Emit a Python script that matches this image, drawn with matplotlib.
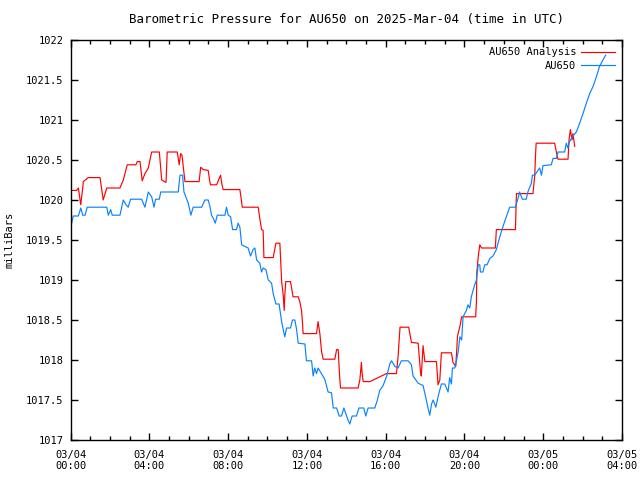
import matplotlib
matplotlib.use('Agg')
import matplotlib.pyplot as plt
from matplotlib.ticker import MultipleLocator, FixedLocator

plt.rcParams['font.family'] = 'DejaVu Sans Mono'
plt.rcParams['font.size'] = 7.5

# hours since 2025-03-04 00:00 UTC, pressure in mb
analysis_h = [0.06, 0.31, 0.40, 0.52, 0.62, 0.65, 0.90, 1.50, 1.66, 1.84, 2.51, 2.68, 2.88, 3.32,
              3.39, 3.53, 3.64, 3.78, 3.95, 4.12, 4.51, 4.63, 4.85, 4.91, 5.42, 5.52, 5.59, 5.66,
              5.81, 6.53, 6.61, 6.74, 6.99, 7.08, 7.11, 7.42, 7.55, 7.62, 7.67, 7.75, 8.60, 8.69,
              8.72, 9.53, 9.61, 9.70, 9.78, 9.82, 10.29, 10.43, 10.63, 10.72, 10.80, 10.85, 10.88,
              10.93, 11.17, 11.30, 11.56, 11.64, 11.73, 11.78, 11.81, 12.49, 12.57, 12.66, 12.75,
              12.83, 13.42, 13.51, 13.59, 13.67, 13.71, 14.60, 14.69, 14.77, 14.80, 14.86, 15.20,
              16.04, 16.55, 16.63, 16.73, 17.17, 17.31, 17.65, 17.77, 17.81, 17.90, 17.99, 18.58,
              18.66, 18.75, 18.83, 19.34, 19.42, 19.56, 19.65, 19.77, 19.86, 20.57, 20.61, 20.63,
              20.70, 20.78, 20.87, 21.57, 21.62, 22.59, 22.64, 23.48, 23.57, 23.60, 23.64, 24.58,
              24.70, 24.75, 25.26, 25.31, 25.38, 25.46, 25.51, 25.60]
analysis_mb = [1020.12, 1020.12, 1020.15, 1019.94, 1020.15, 1020.23, 1020.28, 1020.28, 1020.00,
               1020.15, 1020.15, 1020.25, 1020.44, 1020.44, 1020.48, 1020.48, 1020.24, 1020.33,
               1020.40, 1020.60, 1020.60, 1020.25, 1020.22, 1020.60, 1020.60, 1020.44, 1020.58,
               1020.56, 1020.23, 1020.23, 1020.41, 1020.38, 1020.37, 1020.22, 1020.19, 1020.19,
               1020.27, 1020.31, 1020.22, 1020.13, 1020.13, 1019.97, 1019.91, 1019.91, 1019.77,
               1019.63, 1019.62, 1019.28, 1019.28, 1019.46, 1019.46, 1018.98, 1018.81, 1018.62,
               1018.81, 1018.98, 1018.98, 1018.79, 1018.79, 1018.73, 1018.62, 1018.46, 1018.33,
               1018.33, 1018.48, 1018.33, 1018.10, 1018.01, 1018.01, 1018.13, 1018.13, 1017.77,
               1017.65, 1017.65, 1017.75, 1017.97, 1017.85, 1017.73, 1017.73, 1017.83, 1017.83,
               1018.04, 1018.41, 1018.41, 1018.22, 1018.21, 1017.85, 1017.80, 1018.18, 1017.98,
               1017.98, 1017.69, 1017.75, 1018.09, 1018.09, 1017.97, 1017.92, 1018.30, 1018.42,
               1018.54, 1018.54, 1018.73, 1019.10, 1019.29, 1019.44, 1019.40, 1019.40, 1019.63,
               1019.63, 1020.08, 1020.08, 1020.31, 1020.50, 1020.71, 1020.71, 1020.56, 1020.51,
               1020.51, 1020.75, 1020.88, 1020.75, 1020.83, 1020.67]

station_h = [0.06, 0.14, 0.40, 0.52, 0.62, 0.74, 0.85, 1.84, 1.92, 2.04, 2.12, 2.51, 2.68, 2.82,
             2.93, 3.05, 3.61, 3.78, 3.95, 4.12, 4.24, 4.32, 4.51, 4.58, 5.47, 5.56, 5.69, 5.76,
             5.98, 6.11, 6.23, 6.53, 6.66, 6.82, 6.99, 7.08, 7.16, 7.25, 7.35, 7.45, 7.84, 7.92,
             8.01, 8.13, 8.23, 8.43, 8.51, 8.60, 8.69, 9.02, 9.14, 9.27, 9.36, 9.45, 9.61, 9.70,
             9.78, 9.92, 10.04, 10.21, 10.29, 10.43, 10.59, 10.72, 10.80, 10.88, 10.97, 11.17,
             11.27, 11.39, 11.48, 11.56, 11.90, 11.98, 12.24, 12.32, 12.40, 12.49, 12.57, 12.69,
             12.91, 13.08, 13.25, 13.34, 13.51, 13.64, 13.76, 13.88, 13.98, 14.09, 14.18, 14.30,
             14.52, 14.64, 14.89, 14.99, 15.11, 15.45, 15.57, 15.70, 15.87, 16.07, 16.21, 16.30,
             16.47, 16.63, 16.80, 17.14, 17.31, 17.39, 17.65, 17.90, 18.04, 18.15, 18.24, 18.33,
             18.41, 18.55, 18.66, 18.83, 19.00, 19.17, 19.25, 19.34, 19.39, 19.51, 19.60, 19.68,
             19.77, 19.86, 19.93, 20.10, 20.18, 20.27, 20.35, 20.52, 20.61, 20.70, 20.78, 20.81,
             20.94, 21.03, 21.15, 21.29, 21.45, 21.62, 21.75, 21.87, 22.04, 22.21, 22.30, 22.59,
             22.72, 22.80, 22.94, 23.14, 23.22, 23.40, 23.45, 23.57, 23.73, 23.82, 23.91, 23.99,
             24.41, 24.50, 24.67, 24.75, 25.09, 25.17, 25.25, 25.34, 25.48, 25.68, 25.85, 26.02,
             26.19, 26.36, 26.53, 26.70, 26.86, 27.03, 27.17]
station_mb = [1019.71, 1019.80, 1019.80, 1019.90, 1019.81, 1019.81, 1019.91, 1019.91, 1019.81,
              1019.88, 1019.81, 1019.81, 1020.00, 1019.94, 1019.91, 1020.01, 1020.01, 1019.91,
              1020.10, 1020.04, 1019.91, 1020.01, 1020.01, 1020.10, 1020.10, 1020.31, 1020.31,
              1020.10, 1019.96, 1019.81, 1019.91, 1019.91, 1019.91, 1020.00, 1020.00, 1019.92,
              1019.81, 1019.77, 1019.71, 1019.81, 1019.81, 1019.91, 1019.81, 1019.79, 1019.63,
              1019.63, 1019.71, 1019.66, 1019.44, 1019.40, 1019.30, 1019.38, 1019.40, 1019.25,
              1019.21, 1019.10, 1019.15, 1019.13, 1019.00, 1018.96, 1018.83, 1018.70, 1018.70,
              1018.48, 1018.38, 1018.29, 1018.40, 1018.40, 1018.50, 1018.50, 1018.38, 1018.21,
              1018.20, 1017.99, 1017.99, 1017.80, 1017.90, 1017.83, 1017.90, 1017.85, 1017.76,
              1017.60, 1017.59, 1017.40, 1017.40, 1017.30, 1017.30, 1017.40, 1017.33, 1017.25,
              1017.20, 1017.30, 1017.30, 1017.40, 1017.40, 1017.30, 1017.40, 1017.40, 1017.49,
              1017.62, 1017.68, 1017.81, 1017.95, 1017.99, 1017.92, 1017.90, 1017.99, 1017.99,
              1017.94, 1017.80, 1017.71, 1017.68, 1017.53, 1017.40, 1017.31, 1017.45, 1017.50,
              1017.41, 1017.54, 1017.70, 1017.70, 1017.60, 1017.78, 1017.70, 1017.90, 1017.90,
              1018.00, 1018.10, 1018.29, 1018.25, 1018.54, 1018.62, 1018.69, 1018.65, 1018.79,
              1018.94, 1019.00, 1019.19, 1019.19, 1019.10, 1019.10, 1019.19, 1019.19, 1019.27,
              1019.30, 1019.38, 1019.50, 1019.60, 1019.73, 1019.85, 1019.91, 1019.91, 1020.02,
              1020.10, 1020.01, 1020.01, 1020.10, 1020.21, 1020.31, 1020.31, 1020.37, 1020.40,
              1020.31, 1020.43, 1020.44, 1020.52, 1020.52, 1020.60, 1020.60, 1020.71, 1020.65,
              1020.73, 1020.79, 1020.85, 1020.96, 1021.08, 1021.21, 1021.33, 1021.42, 1021.54,
              1021.67, 1021.75, 1021.81]

xtick_hours = [0, 4, 8, 12, 16, 20, 24, 28]
xtick_labels = ['03/04\n00:00', '03/04\n04:00', '03/04\n08:00', '03/04\n12:00',
                '03/04\n16:00', '03/04\n20:00', '03/05\n00:00', '03/05\n04:00']

fig = plt.figure(figsize=(6.4, 4.8), dpi=100)
ax = fig.add_axes([70.5 / 640, 40 / 480, 551.5 / 640, 400 / 480])

ax.plot(analysis_h, analysis_mb, color='#ff0000', lw=0.85, label='AU650 Analysis')
ax.plot(station_h, station_mb, color='#0a82ff', lw=0.85, label='AU650')

ax.set_xlim(0, 28)
ax.set_ylim(1017, 1022)
ax.xaxis.set_major_locator(FixedLocator(xtick_hours))
ax.set_xticklabels(xtick_labels)
ax.xaxis.set_minor_locator(MultipleLocator(1))
ax.yaxis.set_major_locator(MultipleLocator(0.5))
ax.yaxis.set_major_formatter(plt.FuncFormatter(lambda v, p: f'{v:g}'))

ax.tick_params(which='both', direction='in', top=True, right=True, width=1, color='black')
ax.tick_params(which='major', length=5, pad=5)
ax.tick_params(axis='x', which='major', pad=7)
ax.tick_params(which='minor', length=3)
for s in ax.spines.values():
    s.set_linewidth(1)

ax.set_ylabel('milliBars', labelpad=8)
ax.set_title('Barometric Pressure for AU650 on 2025-Mar-04 (time in UTC)', pad=12)

ax.legend(loc='upper right', frameon=False, markerfirst=False, handlelength=3.2,
          handletextpad=0.5, borderaxespad=0.3, labelspacing=0.35)

fig.savefig('out.png', dpi=100)
